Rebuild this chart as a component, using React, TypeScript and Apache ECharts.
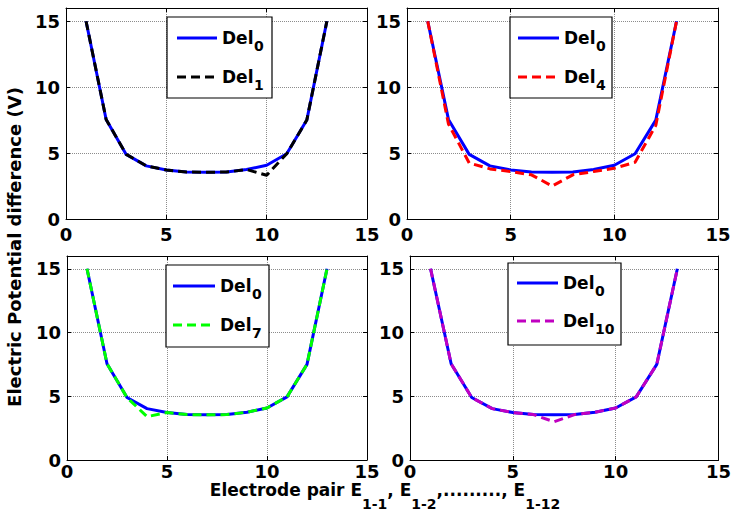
import React, { useEffect, useRef } from "react";
import * as echarts from "echarts";

const xs = [1, 2, 3, 4, 5, 6, 7, 8, 9, 10, 11, 12, 13];
const del0 = [15, 7.55, 4.9, 4.03, 3.72, 3.56, 3.55, 3.56, 3.75, 4.08, 4.95, 7.5, 15];
const del1 = [15, 7.55, 4.9, 4.03, 3.72, 3.56, 3.55, 3.56, 3.75, 3.32, 4.95, 7.5, 15];
const del4 = [15, 7.2, 4.25, 3.8, 3.6, 3.35, 2.5, 3.35, 3.6, 3.85, 4.3, 7.1, 15];
const del7 = [15, 7.55, 4.9, 3.4, 3.72, 3.56, 3.55, 3.56, 3.75, 4.08, 4.95, 7.5, 15];
const del10 = [15, 7.55, 4.9, 4.03, 3.72, 3.56, 3.0, 3.56, 3.75, 4.08, 4.95, 7.5, 15];

const compareSeries = [
  { name: "1", values: del1, color: "#000000" },
  { name: "4", values: del4, color: "#ff0000" },
  { name: "7", values: del7, color: "#00ff00" },
  { name: "10", values: del10, color: "#c000c0" },
];

const yTicks = [0, 5, 10, 15];

// x-axis title pieces: [text, isSubscript]
const xTitleParts: [string, boolean][] = [
  ["Electrode pair E", false],
  ["1-1", true],
  [", E", false],
  ["1-2", true],
  [",........., E", false],
  ["1-12", true],
];
const yTitle = "Electric Potential difference (V)";

const FONT = "DejaVu Sans";
const MAIN_FONT = `bold 17px ${FONT}`;
const SUB_FONT = `bold 14px ${FONT}`;

const grids = [
  { left: 66, top: 8, width: 301, height: 211 },
  { left: 407, top: 8, width: 311, height: 211 },
  { left: 67, top: 256, width: 300, height: 204 },
  { left: 410, top: 256, width: 310, height: 204 },
];
const xLabelMargin = [6, 6, 2, 2];

const legends = [
  { x: 167, y: 17, w: 105, h: 81, l1: 38, l2: 77, s0: 177, s1: 217, t: 222 },
  { x: 510, y: 17, w: 102, h: 81, l1: 38, l2: 77, s0: 518, s1: 559, t: 564 },
  { x: 166, y: 265, w: 103, h: 82, l1: 286, l2: 325, s0: 173, s1: 215, t: 220 },
  { x: 508, y: 263, w: 113, h: 82, l1: 283, l2: 321, s0: 517, s1: 558, t: 563 },
];

export default function App() {
  const ref = useRef<HTMLDivElement>(null);
  useEffect(() => {
    document.body.style.margin = "0";
    const chart = echarts.init(ref.current!, null, { renderer: "svg" });
    const ctx = document.createElement("canvas").getContext("2d")!;
    const measure = (t: string, f: string) => {
      ctx.font = f;
      return ctx.measureText(t).width;
    };
    const xAxis: any[] = [];
    const yAxis: any[] = [];
    const series: any[] = [];
    const graphic: any[] = [];
    grids.forEach((g, i) => {
      xAxis.push({
        type: "value",
        gridIndex: i,
        min: 0,
        max: 15,
        interval: 5,
        axisLine: { show: true, onZero: false, lineStyle: { color: "#000", width: 1 } },
        axisTick: { show: true, inside: true, length: 4, lineStyle: { color: "#000" } },
        axisLabel: {
          color: "#000",
          fontSize: 18,
          fontWeight: "bold",
          fontFamily: FONT,
          margin: xLabelMargin[i],
        },
        splitLine: { show: true, lineStyle: { color: "#8c8c8c", type: [1, 1], width: 1 } },
      });
      xAxis.push({
        type: "value",
        gridIndex: i,
        position: "top",
        min: 0,
        max: 15,
        interval: 5,
        axisLine: { show: true, onZero: false, lineStyle: { color: "#000", width: 1 } },
        axisTick: { show: true, inside: true, length: 4, lineStyle: { color: "#000" } },
        axisLabel: { show: false },
        splitLine: { show: false },
      });
      yAxis.push({
        type: "value",
        gridIndex: i,
        min: 0,
        max: 16,
        interval: 5,
        axisLine: { show: true, onZero: false, lineStyle: { color: "#000", width: 1 } },
        axisTick: { show: true, inside: true, length: 4, lineStyle: { color: "#000" } },
        axisLabel: {
          color: "#000",
          fontSize: 18,
          fontWeight: "bold",
          fontFamily: FONT,
          margin: 6,
          formatter: (v: number) => (yTicks.includes(v) ? String(v) : ""),
        },
        splitLine: { show: true, lineStyle: { color: "#8c8c8c", type: [1, 1], width: 1 } },
      });
      yAxis.push({
        type: "value",
        gridIndex: i,
        position: "right",
        min: 0,
        max: 16,
        interval: 5,
        axisLine: { show: true, onZero: false, lineStyle: { color: "#000", width: 1 } },
        axisTick: { show: true, inside: true, length: 4, lineStyle: { color: "#000" } },
        axisLabel: { show: false },
        splitLine: { show: false },
      });
      series.push({
        type: "line",
        xAxisIndex: i * 2,
        yAxisIndex: i * 2,
        data: xs.map((x, k) => [x, del0[k]]),
        symbol: "none",
        lineStyle: { color: "#0000ff", width: 3 },
        z: 2,
      });
      const cs = compareSeries[i];
      series.push({
        type: "line",
        xAxisIndex: i * 2,
        yAxisIndex: i * 2,
        data: xs.map((x, k) => [x, cs.values[k]]),
        symbol: "none",
        lineStyle: { color: cs.color, width: 3, type: [9, 5] },
        z: 3,
      });
      const L = legends[i];
      graphic.push({
        type: "rect",
        shape: { x: L.x, y: L.y, width: L.w, height: L.h },
        style: { fill: "#fff", stroke: "#000", lineWidth: 1.2 },
        z: 10,
      });
      graphic.push({
        type: "line",
        shape: { x1: L.s0, y1: L.l1, x2: L.s1, y2: L.l1 },
        style: { stroke: "#0000ff", lineWidth: 3 },
        z: 11,
      });
      graphic.push({
        type: "line",
        shape: { x1: L.s0, y1: L.l2, x2: L.s1, y2: L.l2 },
        style: { stroke: cs.color, lineWidth: 3, lineDash: [9, 5] },
        z: 11,
      });
      [
        { y: L.l1, sub: "0" },
        { y: L.l2, sub: cs.name },
      ].forEach((it) => {
        graphic.push({
          type: "text",
          x: L.t,
          y: it.y,
          z: 11,
          style: {
            text: "Del",
            fill: "#000",
            font: `bold 17px ${FONT}`,
            verticalAlign: "middle",
            align: "left",
          },
        });
        graphic.push({
          type: "text",
          x: L.t + 32,
          y: it.y + 8,
          z: 11,
          style: {
            text: it.sub,
            fill: "#000",
            font: `bold 14px ${FONT}`,
            verticalAlign: "middle",
            align: "left",
          },
        });
      });
    });
    graphic.push({
      type: "text",
      x: 14,
      y: 247,
      rotation: Math.PI / 2,
      style: {
        text: yTitle,
        fill: "#000",
        font: `bold 18px ${FONT}`,
        align: "center",
        verticalAlign: "middle",
      },
    });
    // x-axis title with subscripts
    const widths = xTitleParts.map(([t, sub]) => measure(t, sub ? SUB_FONT : MAIN_FONT));
    const total = widths.reduce((a, b) => a + b, 0);
    let cx = 385 - total / 2;
    xTitleParts.forEach(([t, sub], k) => {
      graphic.push({
        type: "text",
        x: cx,
        y: sub ? 497 : 481,
        style: {
          text: t,
          fill: "#000",
          font: sub ? SUB_FONT : MAIN_FONT,
          align: "left",
          verticalAlign: "top",
        },
      });
      cx += widths[k];
    });
    chart.setOption({
      animation: false,
      backgroundColor: "#fff",
      grid: grids.map((g) => ({ ...g, show: false, containLabel: false })),
      xAxis,
      yAxis,
      series,
      graphic,
    });
    return () => chart.dispose();
  }, []);
  return <div ref={ref} style={{ width: 734, height: 528 }} />;
}
